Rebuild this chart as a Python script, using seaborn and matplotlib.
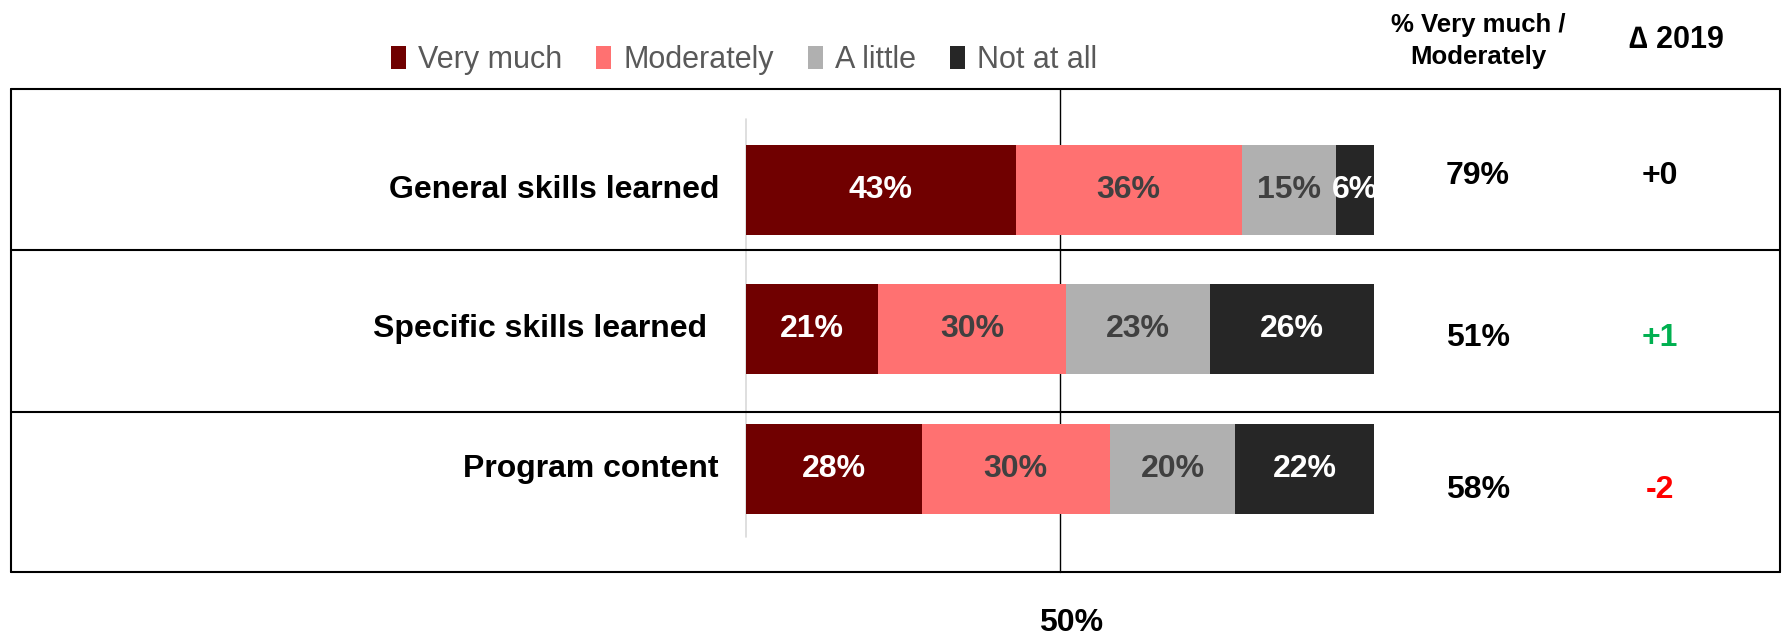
import matplotlib
matplotlib.use("Agg")
import matplotlib.pyplot as plt
import seaborn as sns
import pandas as pd
import numpy as np
from matplotlib.patches import Patch
from matplotlib.lines import Line2D

# ---------------- data ----------------
categories = ["General skills learned", "Specific skills learned", "Program content"]
levels = ["Very much", "Moderately", "A little", "Not at all"]
very_much = [43, 21, 28]
moderately = [36, 30, 30]
a_little = [15, 23, 20]
not_at_all = [6, 26, 22]
top2_labels = ["79%", "51%", "58%"]
delta_labels = ["+0", "+1", "-2"]
delta_colors = ["#000000", "#00B050", "#FF0000"]
bar_colors = ["#700000", "#FF7171", "#B0B0B0", "#262626"]
label_colors = ["#FFFFFF", "#404040", "#404040", "#FFFFFF"]

series = [very_much, moderately, a_little, not_at_all]

# ---------------- style ----------------
sns.set_theme(style="white")
plt.rcParams["font.family"] = ["Liberation Sans", "DejaVu Sans"]

W, H = 1783, 637
fig = plt.figure(figsize=(W / 100, H / 100), dpi=100)
ax = fig.add_axes([0, 0, 1, 1])
ax.set_axis_off()

def fx(px):
    return px / W

def fy(py):
    return 1 - py / H

# pixel mapping for the bar area
x0_px, x100_px = 746, 1373.5
ppu = (x100_px - x0_px) / 100.0
y0_px, row_px = 190, 139.3

# stacked bars: draw cumulative totals from the largest down
cum = np.cumsum(np.array(series), axis=0)
for i in range(len(levels) - 1, -1, -1):
    d = pd.DataFrame({"category": categories, "value": cum[i]})
    sns.barplot(data=d, y="category", x="value", orient="h", color=bar_colors[i],
                saturation=1, width=0.646, linewidth=0, errorbar=None, ax=ax,
                zorder=2)

ax.set_xlim(-x0_px / ppu, (W - x0_px) / ppu)
ax.set_ylim((H - y0_px) / row_px, -y0_px / row_px)
ax.set_axis_off()

# 50% reference line (behind bars) and light grey zero line
ax.axvline(50, ymin=fy(572), ymax=fy(89), color="black", lw=1, zorder=0.5)
ax.axvline(0, ymin=fy(537), ymax=fy(119), color="#D9D9D9", lw=1.2, zorder=0.5)
fig.text(fx(1071), fy(623), "50%", ha="center", va="center",
         fontsize=23, fontweight="bold", color="black")

# segment labels
for i, vals in enumerate(series):
    for j, v in enumerate(vals):
        left = cum[i][j] - v
        ax.text(left + v / 2, j, f"{v}%", ha="center", va="center",
                fontsize=23, fontweight="bold", color=label_colors[i], zorder=3)

# category labels
for j, c in enumerate(categories):
    xr = 707 if j == 1 else 719
    ax.text((xr - x0_px) / ppu, j, c, ha="right", va="center",
            fontsize=23, fontweight="bold", color="black")

# right columns
val_y = [176, 338, 490]
for j in range(len(categories)):
    fig.text(fx(1478), fy(val_y[j]), top2_labels[j], ha="center", va="center",
             fontsize=23, fontweight="bold", color="black")
    fig.text(fx(1660), fy(val_y[j]), delta_labels[j], ha="center", va="center",
             fontsize=23, fontweight="bold", color=delta_colors[j])

# headers
fig.text(fx(1478), fy(25), "% Very much /", ha="center", va="center",
         fontsize=18.5, fontweight="bold", color="black")
fig.text(fx(1478), fy(57), "Moderately", ha="center", va="center",
         fontsize=18.5, fontweight="bold", color="black")
fig.text(fx(1676), fy(40), "\u2206 2019", ha="center", va="center",
         fontsize=22, fontweight="bold", color="black")

# outer box and row separators
lw = 1.5
for yy in [89, 572, 250, 412]:
    fig.add_artist(Line2D([fx(11), fx(1780)], [fy(yy), fy(yy)], color="black", lw=lw))
for xx in [11, 1780]:
    fig.add_artist(Line2D([fx(xx), fx(xx)], [fy(89), fy(572)], color="black", lw=lw))

# legend
handles = [Patch(facecolor=c, edgecolor="none", label=l) for c, l in zip(bar_colors, levels)]
fig.legend(handles=handles, loc="center", bbox_to_anchor=(fx(744), fy(60)), ncol=4,
           frameon=False, fontsize=22, handlelength=0.5, handleheight=0.8,
           handletextpad=0.4, columnspacing=1.1, labelcolor="#595959",
           borderpad=0, borderaxespad=0)

fig.savefig("out.png", dpi=100)
